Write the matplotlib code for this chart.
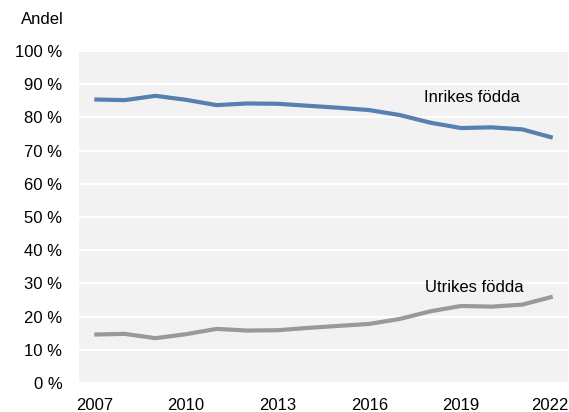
import matplotlib
matplotlib.use("Agg")
import matplotlib.pyplot as plt
import matplotlib.transforms as mtransforms
from matplotlib.ticker import FuncFormatter

years = list(range(2007, 2023))
inrikes = [85.4, 85.2, 86.5, 85.3, 83.7, 84.2, 84.1, 83.5, 82.9, 82.2, 80.7, 78.4, 76.8, 77.0, 76.4, 73.9]
utrikes = [14.6, 14.8, 13.5, 14.7, 16.3, 15.8, 15.9, 16.6, 17.2, 17.8, 19.3, 21.6, 23.2, 23.0, 23.6, 26.0]
xticks = [2007, 2010, 2013, 2016, 2019, 2022]
yticks = list(range(0, 101, 10))

plt.rcParams['font.family'] = ['Liberation Sans', 'DejaVu Sans']
FS = 12

fig = plt.figure(figsize=(5.69, 4.12), dpi=100)
ax = fig.add_axes([79/569, 1-383/412, (568-79)/569, (383-51)/412])
ax.set_facecolor('#f2f2f2')

ax.plot(years, inrikes, color='#5580b0', lw=3.0, solid_capstyle='butt', zorder=3)
ax.plot(years, utrikes, color='#999999', lw=3.0, solid_capstyle='butt', zorder=3)

ax.set_xlim(2006.5, 2022.5)
ax.set_ylim(0, 100)
ax.set_xticks(xticks)
ax.set_yticks(yticks)
ax.yaxis.set_major_formatter(FuncFormatter(lambda v, p: f"{int(v)} %"))
ax.grid(axis='y', color='white', lw=1.5, zorder=1)
ax.set_axisbelow(True)
for s in ax.spines.values():
    s.set_visible(False)
ax.tick_params(axis='both', length=0, labelsize=FS, colors='black')
ax.tick_params(axis='y', pad=12)
ax.tick_params(axis='x', pad=11)

# nudge the last year label so it stays inside the figure
last = ax.get_xticklabels()[-1]
last.set_transform(last.get_transform() + mtransforms.ScaledTranslation(-3/100, 0, fig.dpi_scale_trans))

ax.text(2017.78, 86.1, "Inrikes födda", fontsize=FS, va='center', ha='left')
ax.text(2017.82, 28.9, "Utrikes födda", fontsize=FS, va='center', ha='left')
fig.text(64/569, 1-20/412, "Andel", fontsize=FS, ha='right', va='center')

fig.savefig("out.png", dpi=100)
